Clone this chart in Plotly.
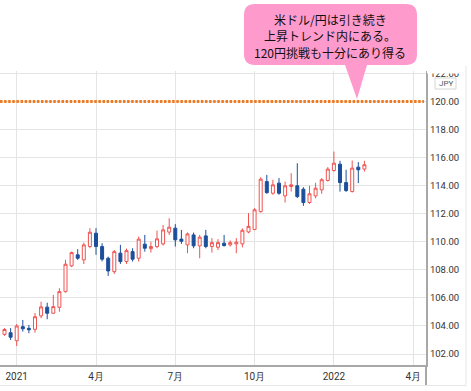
import pandas as pd
import plotly.graph_objects as go

# ---- data (weekly USD/JPY candles) ----
start_week = "2020-12-21"
opens = [103.40, 103.52, 102.95, 103.95, 103.83, 103.76, 104.72, 105.34, 104.91, 105.33,
         106.45, 108.28, 109.07, 108.71, 109.66, 110.61, 109.66, 108.83, 107.87, 109.19,
         108.59, 109.30, 108.83, 109.83, 109.51, 109.66, 109.85, 110.69, 110.97, 110.19,
         109.78, 110.49, 109.71, 110.42, 109.66, 109.61, 109.90, 109.78, 109.85, 109.85,
         110.70, 110.88, 112.15, 114.29, 113.46, 114.18, 113.27, 113.94, 113.99, 113.75,
         112.80, 113.27, 113.70, 114.37, 115.08, 115.53, 114.22, 113.58, 115.32, 115.18]
highs = [103.85, 103.85, 104.14, 104.43, 104.07, 104.93, 105.73, 105.66, 106.21, 106.69,
         108.71, 109.30, 109.47, 109.94, 110.97, 110.97, 109.90, 108.94, 109.42, 109.78,
         109.52, 109.54, 110.37, 110.49, 110.00, 110.80, 111.20, 111.68, 111.26, 110.85,
         110.66, 110.66, 110.49, 110.85, 110.26, 110.19, 110.49, 110.10, 110.26, 110.95,
         112.04, 112.40, 114.60, 114.77, 114.42, 114.54, 114.29, 114.89, 115.60, 113.89,
         113.99, 114.20, 114.54, 115.32, 116.43, 115.77, 115.13, 115.79, 115.68, 115.77]
lows = [103.30, 103.00, 102.57, 103.60, 103.48, 103.52, 104.55, 104.48, 104.86, 105.02,
        106.38, 108.20, 108.71, 108.42, 109.54, 109.07, 108.60, 107.57, 107.71, 108.42,
        108.42, 108.59, 108.59, 109.30, 109.23, 109.54, 109.73, 110.49, 109.66, 109.85,
        109.19, 109.54, 108.83, 109.54, 109.23, 109.42, 109.66, 109.66, 109.19, 109.60,
        110.61, 110.82, 112.08, 113.42, 113.35, 113.35, 112.80, 113.58, 113.11, 112.56,
        112.70, 113.10, 113.42, 114.29, 115.00, 113.58, 113.56, 113.51, 114.18, 115.00]
closes = [103.75, 103.20, 104.00, 103.80, 103.73, 104.66, 105.36, 104.91, 105.38, 106.45,
          108.40, 109.23, 108.83, 109.78, 110.68, 109.66, 108.76, 107.92, 109.30, 108.59,
          109.37, 108.76, 110.19, 109.54, 109.66, 110.21, 110.85, 111.04, 110.14, 110.04,
          110.56, 109.71, 110.33, 109.66, 109.94, 109.94, 109.73, 109.94, 109.97, 110.82,
          111.10, 112.28, 114.46, 113.50, 114.06, 113.46, 113.99, 114.06, 113.22, 112.80,
          113.42, 113.82, 114.42, 115.18, 115.60, 114.22, 113.65, 115.25, 115.13, 115.49]

x_tick_dates = ["2021-01-04", "2021-04-05", "2021-07-05", "2021-10-04", "2022-01-03", "2022-04-04"]
x_tick_labels = ["2021", "4月", "7月", "10月", "2022", "4月"]
y_tick_vals = [102, 104, 106, 108, 110, 112, 114, 116, 118, 120, 122]
target_level = 120

callout_lines = ["米ドル/円は引き続き", "上昇トレンド内にある。", "120円挑戦も十分にあり得る"]

# ---- figure ----
dates = pd.date_range(start_week, periods=len(opens), freq="7D")

W, H = 471, 391
PL, PR, PT, PB = 0, 426, 71, 365

def fx(px):
    return (px - PL) / (PR - PL)

def fy(py):
    return (PB - py) / (PB - PT)

week_px = 6.1
first_px = 4.5
d0 = dates[0]
x_left = d0 - pd.Timedelta(days=7 * (first_px - PL) / week_px)
x_right = d0 + pd.Timedelta(days=7 * (PR - first_px) / week_px)

RED = "#ef5350"
BLUE = "#1b4f9c"

fig = go.Figure()
fig.add_trace(go.Candlestick(
    x=dates, open=opens, high=highs, low=lows, close=closes,
    increasing=dict(line=dict(color=RED, width=1), fillcolor="white"),
    decreasing=dict(line=dict(color=BLUE, width=1), fillcolor=BLUE),
    whiskerwidth=0, showlegend=False, hoverinfo="skip",
))

shapes = []
# 120 target dotted line
shapes.append(dict(type="line", xref="paper", yref="y", x0=0, x1=fx(424),
                   y0=target_level, y1=target_level,
                   line=dict(color="#f07a22", width=3, dash="2.5px,1.6px"), layer="above"))
# clip top of right-axis labels
shapes.append(dict(type="rect", xref="paper", yref="paper", x0=fx(427), x1=fx(471),
                   y0=fy(73.5), y1=fy(0), fillcolor="white", line=dict(width=0), layer="above"))
# JPY box
shapes.append(dict(type="rect", xref="paper", yref="paper", x0=fx(435), x1=fx(456),
                   y0=fy(89), y1=fy(78), fillcolor="white",
                   line=dict(color="#d6d6d6", width=1), layer="above"))
# frame lines
shapes.append(dict(type="line", xref="paper", yref="paper", x0=fx(426), x1=fx(426),
                   y0=fy(385), y1=fy(365), line=dict(color="#a8a8a8", width=2), layer="above"))
shapes.append(dict(type="line", xref="paper", yref="paper", x0=fx(0), x1=fx(466),
                   y0=fy(385.5), y1=fy(385.5), line=dict(color="#e6e6e6", width=1), layer="above"))
shapes.append(dict(type="line", xref="paper", yref="paper", x0=fx(466), x1=fx(466),
                   y0=fy(385.5), y1=fy(66), line=dict(color="#e6e6e6", width=1), layer="above"))

# callout bubble (rounded rect + pointer)
L, R, T, B, r = 244, 417, 4, 65, 11
bl, tipx, tipy, br = 345, 357, 99, 367
pts = [
    ("M", L + r, T), ("L", R - r, T), ("Q", R, T, R, T + r), ("L", R, B - r),
    ("Q", R, B, R - r, B), ("L", br, B), ("L", tipx, tipy), ("L", bl, B),
    ("L", L + r, B), ("Q", L, B, L, B - r), ("L", L, T + r), ("Q", L, T, L + r, T),
]
path = ""
for p in pts:
    cmd = p[0]
    coords = p[1:]
    s = " ".join(f"{fx(coords[i]):.5f},{fy(coords[i+1]):.5f}" for i in range(0, len(coords), 2))
    path += f"{cmd}{s} "
path += "Z"
shapes.append(dict(type="path", xref="paper", yref="paper", path=path,
                   fillcolor="#ff9acd", line=dict(width=0), layer="above"))

annotations = []
for i, (txt, cy) in enumerate(zip(callout_lines, [19, 36, 53])):
    annotations.append(dict(text=txt, xref="paper", yref="paper", x=fx(330), y=fy(cy),
                            xanchor="center", yanchor="middle", showarrow=False,
                            font=dict(family="Noto Sans CJK JP", size=12, color="#111111")))
annotations.append(dict(text="JPY", xref="paper", yref="paper", x=fx(445.5), y=fy(83.5),
                        xanchor="center", yanchor="middle", showarrow=False,
                        font=dict(family="Roboto", size=8, color="#555555")))

fig.update_layout(
    width=W, height=H,
    margin=dict(l=PL, r=W - PR, t=PT, b=H - PB, pad=0),
    paper_bgcolor="white", plot_bgcolor="white",
    shapes=shapes, annotations=annotations,
    font=dict(family="Roboto", color="#333333"),
)
fig.update_xaxes(
    type="date", range=[x_left, x_right], rangeslider_visible=False,
    tickmode="array", tickvals=list(pd.to_datetime(x_tick_dates)), ticktext=x_tick_labels,
    showgrid=True, gridcolor="#e4e4e4", gridwidth=1,
    showline=True, linecolor="#a8a8a8", linewidth=2,
    ticks="", tickfont=dict(family="Roboto", size=10, color="#333333"), ticklabelstandoff=1,
    zeroline=False, automargin=False, fixedrange=True,
)
fig.update_yaxes(
    side="right", range=[101.22, 122.17],
    tickmode="array", tickvals=y_tick_vals, ticktext=[f"{v:.2f}" for v in y_tick_vals],
    showgrid=True, gridcolor="#e4e4e4", gridwidth=1,
    showline=True, linecolor="#a8a8a8", linewidth=2,
    ticks="", tickfont=dict(family="Roboto", size=9.5, color="#333333"), ticklabelstandoff=0,
    zeroline=False, automargin=False, fixedrange=True,
)

fig.write_html("out.html", config={"displayModeBar": False},
               post_script="document.body.style.margin='0';document.body.style.overflow='hidden';")
